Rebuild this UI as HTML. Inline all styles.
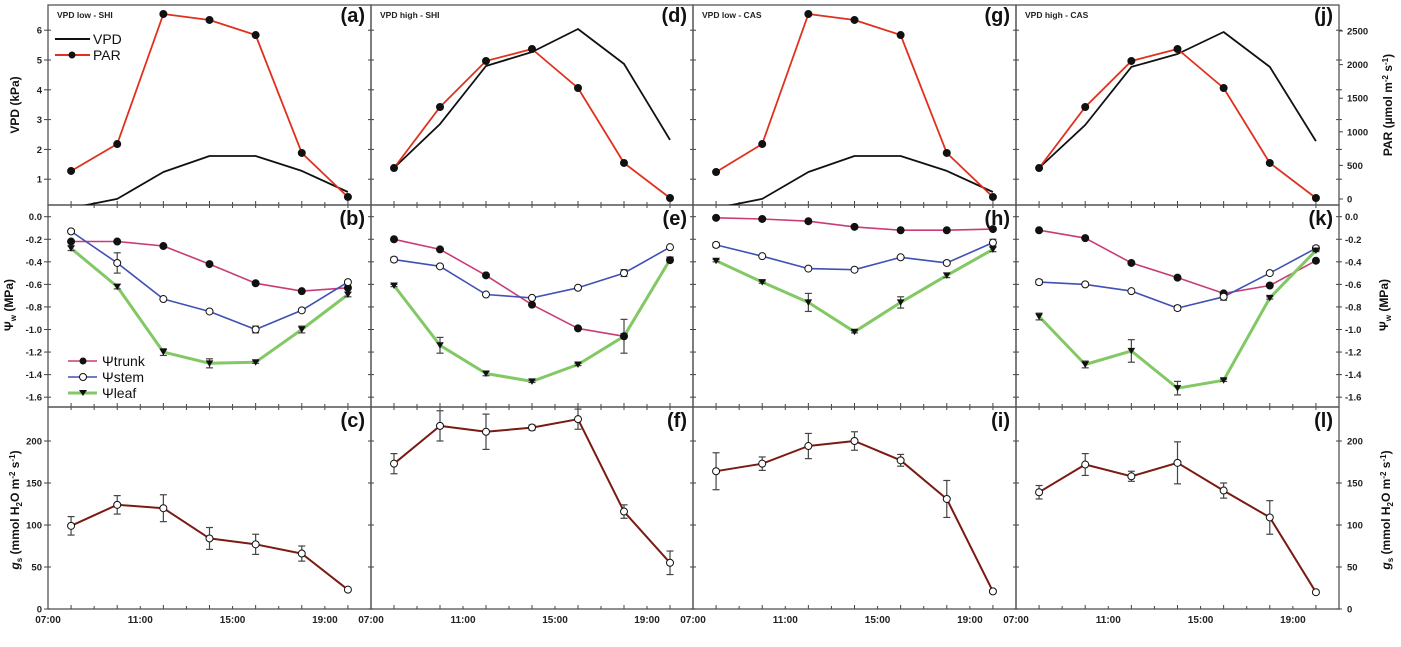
<!DOCTYPE html>
<html><head><meta charset="utf-8"><style>
html,body{margin:0;padding:0;background:#fff;width:1401px;height:647px;overflow:hidden}
svg{display:block;font-family:"Liberation Sans",Arial,sans-serif}
</style></head><body>
<svg id="chart" width="1401" height="647" viewBox="0 0 1401 647"></svg>
<script>
const hours=[8,10,12,14,16,18,20];
const subtitles=['VPD low - SHI','VPD high - SHI','VPD low - CAS','VPD high - CAS'];
const topLetters=['(a)','(d)','(g)','(j)'];
const midLetters=['(b)','(e)','(h)','(k)'];
const botLetters=['(c)','(f)','(i)','(l)'];
const timeLabels=['07:00','11:00','15:00','19:00'];
const vpdTicks=[1,2,3,4,5,6];
const parTicks=[0,500,1000,1500,2000,2500];
const psiTicks=[0,-0.2,-0.4,-0.6,-0.8,-1.0,-1.2,-1.4,-1.6];
const gsTicks=[0,50,100,150,200];
// VPD (kPa)
const vpdA=[0.03,0.34,1.24,1.78,1.78,1.28,0.57];
const vpdD=[1.38,2.85,4.8,5.27,6.04,4.87,2.32];
const vpdG=[0.03,0.34,1.24,1.78,1.78,1.28,0.57];
const vpdJ=[1.38,2.82,4.77,5.2,5.94,4.77,2.28];
// PAR
const parA=[417,818,2753,2664,2440,685,30];
const parD=[461,1369,2054,2232,1652,536,15];
const parG=[402,818,2753,2664,2440,685,30];
const parJ=[461,1369,2054,2232,1652,536,15];
// water potentials
const trunkB=[-0.22,-0.22,-0.26,-0.42,-0.59,-0.66,-0.63];
const stemB=[-0.13,-0.41,-0.73,-0.84,-1.0,-0.83,-0.58];
const stemErrB=[0.01,0.09,0.01,0.01,0.03,0.01,0.01];
const leafB=[-0.28,-0.62,-1.2,-1.3,-1.29,-1.0,-0.69];
const leafErrB=[0.02,0.02,0.03,0.04,0.01,0.03,0.02];
const trunkE=[-0.2,-0.29,-0.52,-0.78,-0.99,-1.06,-0.385];
const stemE=[-0.38,-0.44,-0.69,-0.72,-0.63,-0.5,-0.27];
const stemErrE=[0.02,0.01,0.01,0.01,0.01,0.03,0.01];
const leafE=[-0.61,-1.14,-1.39,-1.46,-1.31,-1.06,-0.38];
const leafErrE=[0.01,0.07,0.02,0.01,0.01,0.15,0.02];
const trunkH=[-0.01,-0.02,-0.04,-0.09,-0.12,-0.12,-0.11];
const stemH=[-0.25,-0.35,-0.46,-0.47,-0.36,-0.41,-0.23];
const stemErrH=[0.02,0.01,0.01,0.01,0.01,0.015,0.03];
const leafH=[-0.39,-0.58,-0.76,-1.02,-0.76,-0.52,-0.29];
const leafErrH=[0.01,0.01,0.08,0.01,0.05,0.02,0.02];
const trunkK=[-0.12,-0.19,-0.41,-0.54,-0.68,-0.61,-0.39];
const stemK=[-0.58,-0.6,-0.66,-0.81,-0.71,-0.5,-0.28];
const stemErrK=[0.02,0.01,0.01,0.02,0.03,0.01,0.02];
const leafK=[-0.885,-1.31,-1.19,-1.52,-1.45,-0.72,-0.3];
const leafErrK=[0.03,0.03,0.1,0.06,0.01,0.01,0.01];
// stomatal conductance
const gsC=[99,124,120,84,77,66,23];
const gsErrC=[11,11,16,13,12,9,2];
const gsF=[173,218,211,216,226,116,55];
const gsErrF=[12,18,21,3,12,8,14];
const gsI=[164,173,194,200,177,131,21];
const gsErrI=[22,8,15,11,7,22,2];
const gsL=[139,172,158,174,141,109,20];
const gsErrL=[8,13,6,25,9,20,2];

const NS='http://www.w3.org/2000/svg';
const svg=document.getElementById('chart');
function mk(tag,attrs,parent,text){const e=document.createElementNS(NS,tag);for(const k in attrs)e.setAttribute(k,attrs[k]);if(text!==undefined)e.textContent=text;(parent||svg).appendChild(e);return e;}
const colX=[48,371,693,1016,1339];
const rowTop=[5,205,407], rowBot=[205,407,609];
function xS(c,h){return colX[c]+(h-7)*(colX[c+1]-colX[c])/14;}
const yVpd=v=>209-v*29.8;
const yPar=v=>199-v*33.6/500;
const yPsi=v=>216.7-v*112.8;
const yGs=v=>609-v*0.84;
const vpdSets=[vpdA,vpdD,vpdG,vpdJ], parSets=[parA,parD,parG,parJ];
const trunkSets=[trunkB,trunkE,trunkH,trunkK], stemSets=[stemB,stemE,stemH,stemK], stemErrSets=[stemErrB,stemErrE,stemErrH,stemErrK];
const leafSets=[leafB,leafE,leafH,leafK], leafErrSets=[leafErrB,leafErrE,leafErrH,leafErrK];
const gsSets=[gsC,gsF,gsI,gsL], gsErrSets=[gsErrC,gsErrF,gsErrI,gsErrL];

const defs=mk('defs',{});
for(let c=0;c<4;c++)for(let r=0;r<3;r++){const cp=mk('clipPath',{id:'cp'+c+r},defs);mk('rect',{x:colX[c],y:rowTop[r],width:colX[c+1]-colX[c],height:rowBot[r]-rowTop[r]},cp);}

function poly(c,r,xs,ys,color,w,name){
  const pts=xs.map((x,i)=>x.toFixed(1)+','+ys[i].toFixed(1)).join(' ');
  const p=mk('polyline',{points:pts,fill:'none',stroke:color,'stroke-width':w,'stroke-linejoin':'round','clip-path':'url(#cp'+c+r+')'});
  
  
}
function errbar(x,y1,y2,name){
  const g=mk('g',{stroke:'#444','stroke-width':1.2});
  
  
  mk('line',{x1:x,x2:x,y1:y1,y2:y2},g);mk('line',{x1:x-3.5,x2:x+3.5,y1:y1,y2:y1},g);mk('line',{x1:x-3.5,x2:x+3.5,y1:y2,y2:y2},g);
}
function dot(x,y,fill,name,r){const e=mk('circle',{cx:x,cy:y,r:r||3.5,fill:fill,stroke:'#111','stroke-width':1});
  
  }
function tri(x,y,name){const e=mk('polygon',{points:`${x-3.8},${y-3} ${x+3.8},${y-3} ${x},${y+3.5}`,fill:'#111'});
  
  }

for(let c=0;c<4;c++){
  for(let r=0;r<3;r++){
    const fr=mk('rect',{x:colX[c],y:rowTop[r],width:colX[c+1]-colX[c],height:rowBot[r]-rowTop[r],fill:'none',stroke:'#555','stroke-width':1.3});
    
    
    for(let h=8;h<21;h++){const x=xS(c,h);mk('line',{x1:x,x2:x,y1:rowBot[r]-(h%2?3:4),y2:rowBot[r]+(r<2?3:0),stroke:'#444','stroke-width':1});}
  }
  timeLabels.forEach((t,i)=>{const h=7+i*4;const e=mk('text',{x:xS(c,h),y:623,'font-size':10,'font-weight':'bold','text-anchor':'middle',fill:'#222'},svg,t);
    
    });
  const st=mk('text',{x:colX[c]+9,y:18,'font-size':8.5,'font-weight':'bold',fill:'#222'},svg,subtitles[c]);
  
  
  [[topLetters,22],[midLetters,225],[botLetters,427]].forEach(([L,y])=>{const e=mk('text',{x:colX[c+1]-6,y:y,'font-size':20,'font-weight':'bold','text-anchor':'end',fill:'#111'},svg,L[c]);
    
    });
}
function yTicks(vals,scale,fmt){vals.forEach(v=>{const y=scale(v);[0,1,2,3,4].forEach(i=>{const x=colX[i];mk('line',{x1:x-(i==0?4:3),x2:x+3,y1:y,y2:y,stroke:'#444','stroke-width':1});});
  const t=mk('text',{x:42,y:y+3.5,'font-size':9.5,'font-weight':'bold','text-anchor':'end',fill:'#222'},svg,fmt(v));
  
  
  });}
yTicks(vpdTicks,yVpd,v=>String(v));
yTicks(psiTicks,yPsi,v=>v.toFixed(1));
yTicks(gsTicks,yGs,v=>String(v));
parTicks.forEach(v=>{const y=yPar(v);mk('line',{x1:1339,x2:1343,y1:y,y2:y,stroke:'#444','stroke-width':1});const t=mk('text',{x:1347,y:y+3.5,'font-size':9.5,'font-weight':'bold',fill:'#222'},svg,String(v));
  
  });
psiTicks.forEach(v=>{const t=mk('text',{x:1345,y:yPsi(v)+3.5,'font-size':9.5,'font-weight':'bold',fill:'#222'},svg,v.toFixed(1));
  
  });
gsTicks.forEach(v=>{const t=mk('text',{x:1347,y:yGs(v)+3.5,'font-size':9.5,'font-weight':'bold',fill:'#222'},svg,String(v));
  
  });

for(let c=0;c<4;c++){
  const xs=hours.map(h=>xS(c,h));
  poly(c,0,xs,vpdSets[c].map(yVpd),'#111',1.8,'vpd-line');
  poly(c,0,xs,parSets[c].map(yPar),'#e0301e',1.8,'par-line');
  parSets[c].forEach((v,i)=>dot(xs[i],yPar(v),'#111','par-point'));
  poly(c,1,xs,trunkSets[c].map(yPsi),'#c83c78',1.6,'psi-trunk-line');
  poly(c,1,xs,stemSets[c].map(yPsi),'#4050b4',1.6,'psi-stem-line');
  poly(c,1,xs,leafSets[c].map(yPsi),'#82c864',3,'psi-leaf-line');
  stemSets[c].forEach((v,i)=>{const e=stemErrSets[c][i];if(e>0.012)errbar(xs[i],yPsi(v+e),yPsi(v-e),'stem-error-bar');});
  leafSets[c].forEach((v,i)=>{const e=leafErrSets[c][i];errbar(xs[i],yPsi(v+e),yPsi(v-e),'leaf-error-bar');});
  trunkSets[c].forEach((v,i)=>dot(xs[i],yPsi(v),'#111','psi-trunk-point'));
  stemSets[c].forEach((v,i)=>dot(xs[i],yPsi(v),'#fff','psi-stem-point'));
  leafSets[c].forEach((v,i)=>tri(xs[i],yPsi(v),'psi-leaf-point'));
  poly(c,2,xs,gsSets[c].map(yGs),'#7a1a12',2,'gs-line');
  gsSets[c].forEach((v,i)=>{const e=gsErrSets[c][i];errbar(xs[i],yGs(v+e),yGs(v-e),'gs-error-bar');});
  gsSets[c].forEach((v,i)=>dot(xs[i],yGs(v),'#fff','gs-point'));
}
</script>
<svg width="1401" height="647" style="position:absolute;left:0;top:0" font-family="Liberation Sans, Arial, sans-serif">
  <g>
    <line x1="55" y1="39" x2="90" y2="39" stroke="#111" stroke-width="2"/>
    <text x="93" y="44" font-size="14" fill="#111">VPD</text>
    <line x1="55" y1="55" x2="90" y2="55" stroke="#e0301e" stroke-width="2"/>
    <circle cx="72" cy="55" r="3.5" fill="#111"/>
    <text x="93" y="60" font-size="14" fill="#111">PAR</text>
  </g>
  <g>
    <line x1="68" y1="361" x2="97" y2="361" stroke="#c83c78" stroke-width="1.6"/>
    <circle cx="83" cy="361" r="3.5" fill="#111"/>
    <text x="102" y="366" font-size="14" fill="#111">Ψtrunk</text>
    <line x1="68" y1="377" x2="97" y2="377" stroke="#4050b4" stroke-width="1.6"/>
    <circle cx="83" cy="377" r="3.5" fill="#fff" stroke="#111"/>
    <text x="102" y="382" font-size="14" fill="#111">Ψstem</text>
    <line x1="68" y1="393" x2="97" y2="393" stroke="#82c864" stroke-width="3"/>
    <polygon points="79,390 87,390 83,396" fill="#111"/>
    <text x="102" y="398" font-size="14" fill="#111">Ψleaf</text>
  </g>
  <text transform="translate(19,105) rotate(-90)" font-size="12" font-weight="bold" text-anchor="middle" fill="#111">VPD (kPa)</text>
  <text transform="translate(13,305) rotate(-90)" font-size="12" font-weight="bold" text-anchor="middle" fill="#111">Ψ<tspan font-size="8" dy="3">w</tspan><tspan dy="-3"> (MPa)</tspan></text>
  <text transform="translate(19,510) rotate(-90)" font-size="12" font-weight="bold" text-anchor="middle" fill="#111"><tspan font-style="italic">g</tspan><tspan font-size="8" dy="3">s</tspan><tspan dy="-3"> (mmol H</tspan><tspan font-size="8" dy="3">2</tspan><tspan dy="-3">O m</tspan><tspan font-size="8" dy="-4">-2</tspan><tspan dy="4"> s</tspan><tspan font-size="8" dy="-4">-1</tspan><tspan dy="4">)</tspan></text>
  <text transform="translate(1392,105) rotate(-90)" font-size="12" font-weight="bold" text-anchor="middle" fill="#111">PAR (µmol m<tspan font-size="8" dy="-4">-2</tspan><tspan dy="4"> s</tspan><tspan font-size="8" dy="-4">-1</tspan><tspan dy="4">)</tspan></text>
  <text transform="translate(1388,305) rotate(-90)" font-size="12" font-weight="bold" text-anchor="middle" fill="#111">Ψ<tspan font-size="8" dy="3">w</tspan><tspan dy="-3"> (MPa)</tspan></text>
  <text transform="translate(1390,510) rotate(-90)" font-size="12" font-weight="bold" text-anchor="middle" fill="#111"><tspan font-style="italic">g</tspan><tspan font-size="8" dy="3">s</tspan><tspan dy="-3"> (mmol H</tspan><tspan font-size="8" dy="3">2</tspan><tspan dy="-3">O m</tspan><tspan font-size="8" dy="-4">-2</tspan><tspan dy="4"> s</tspan><tspan font-size="8" dy="-4">-1</tspan><tspan dy="4">)</tspan></text>
</svg>
</body></html>
